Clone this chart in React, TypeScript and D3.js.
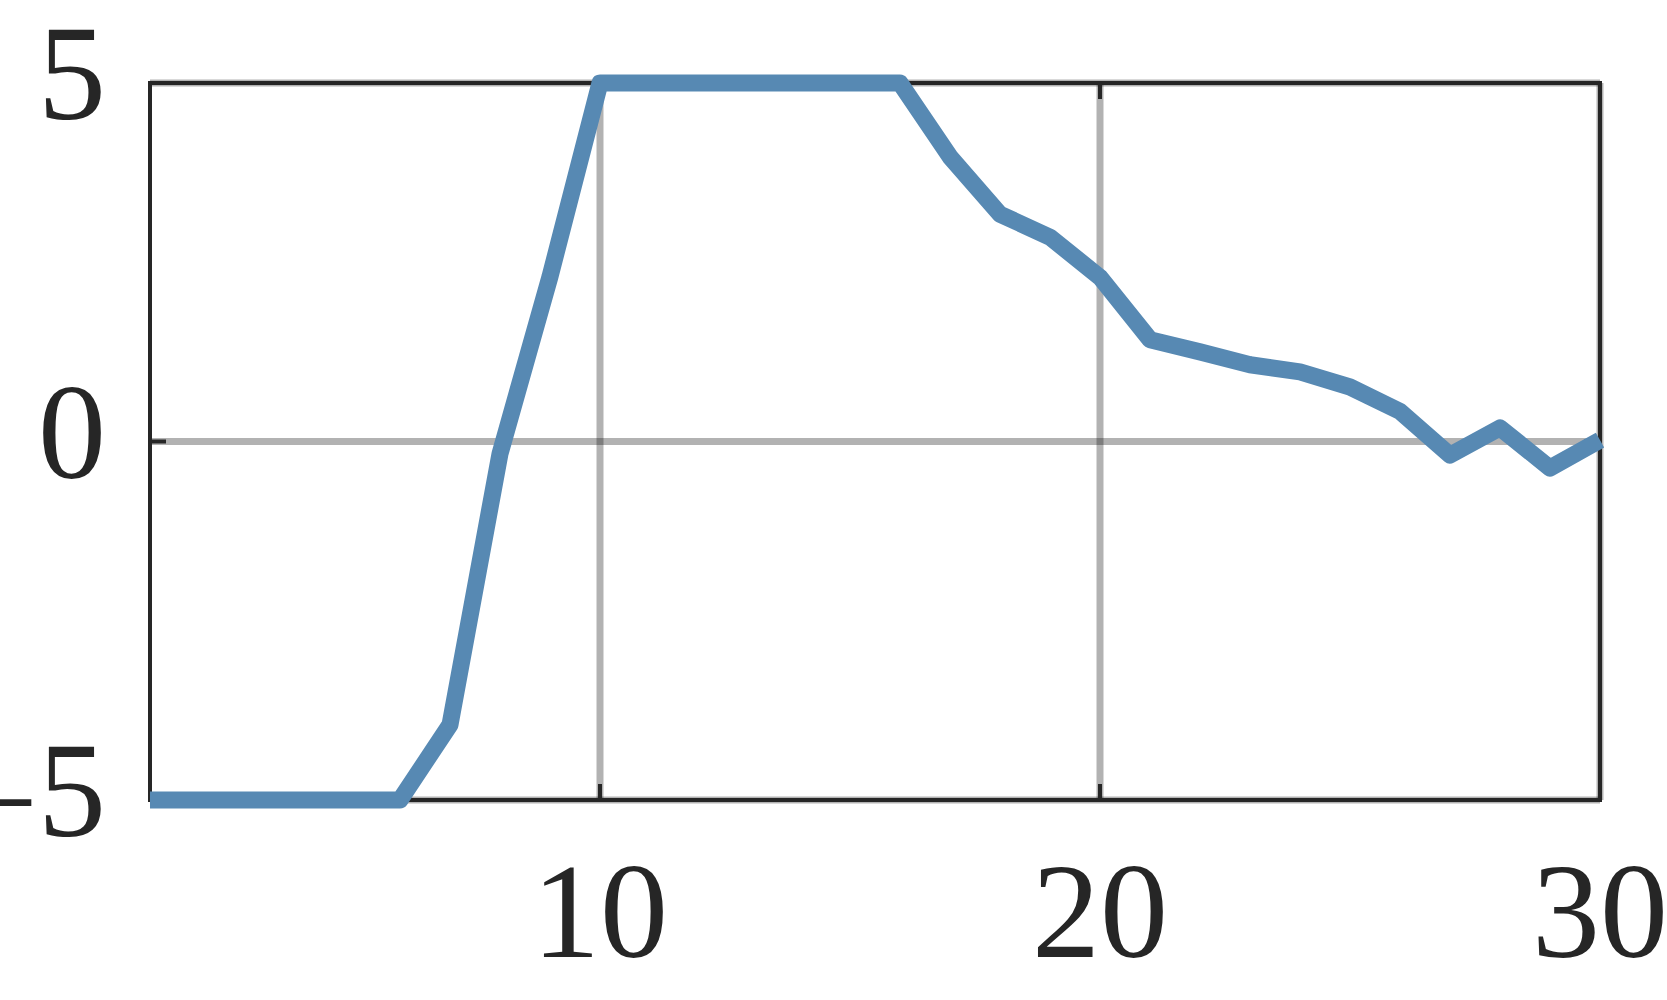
import React, { useEffect, useRef } from 'react'
import * as d3 from 'd3'

// step index (1..30) and the value at each step
const steps = d3.range(1, 31)
const values = [
  -5, -5, -5, -5, -5, -5, -3.95, -0.17, 2.3, 5,
  5, 5, 5, 5, 5, 5, 3.97, 3.17, 2.85, 2.29,
  1.42, 1.25, 1.07, 0.97, 0.76, 0.42, -0.19, 0.19, -0.37, 0.02
]
const xTicks = [10, 20, 30]
const yTicks = [-5, 0, 5]

const width = 1667
const height = 1000
const margin = { top: 83, right: 67, bottom: 200, left: 150 }
const tickLen = 16
const ink = '#262626'
const lineColor = '#5789b3'
const font = '"Liberation Serif", "Times New Roman", serif'

function App () {
  const ref = useRef(null)

  useEffect(() => {
    const node = ref.current
    d3.select(node).selectAll('*').remove()

    const x = d3.scaleLinear()
      .domain([1, 30])
      .range([margin.left, width - margin.right])
    const y = d3.scaleLinear()
      .domain([-5, 5])
      .range([height - margin.bottom, margin.top])

    const svg = d3.select(node)
    const [x0, x1] = x.range()
    const [y0, y1] = y.range()

    // grid
    const grid = svg.append('g')
      .attr('stroke', '#000')
      .attr('stroke-opacity', 0.3)
      .attr('stroke-width', 7)
    grid.selectAll('.vgrid')
      .data(xTicks)
      .enter().append('line')
      .attr('x1', d => x(d)).attr('x2', d => x(d))
      .attr('y1', y1).attr('y2', y0)
    grid.selectAll('.hgrid')
      .data(yTicks)
      .enter().append('line')
      .attr('x1', x0).attr('x2', x1)
      .attr('y1', d => y(d)).attr('y2', d => y(d))

    // frame
    svg.append('rect')
      .attr('x', x0).attr('y', y1)
      .attr('width', x1 - x0).attr('height', y0 - y1)
      .attr('fill', 'none')
      .attr('stroke', ink)
      .attr('stroke-width', 4)

    // inward ticks on all four sides
    const ticks = svg.append('g').attr('stroke', ink).attr('stroke-width', 4)
    xTicks.forEach(t => {
      ticks.append('line').attr('x1', x(t)).attr('x2', x(t)).attr('y1', y0).attr('y2', y0 - tickLen)
      ticks.append('line').attr('x1', x(t)).attr('x2', x(t)).attr('y1', y1).attr('y2', y1 + tickLen)
    })
    yTicks.forEach(t => {
      ticks.append('line').attr('x1', x0).attr('x2', x0 + tickLen).attr('y1', y(t)).attr('y2', y(t))
      ticks.append('line').attr('x1', x1).attr('x2', x1 - tickLen).attr('y1', y(t)).attr('y2', y(t))
    })

    // tick labels
    svg.append('g').selectAll('text')
      .data(xTicks)
      .enter().append('text')
      .attr('x', d => x(d))
      .attr('y', y0 + 157)
      .attr('text-anchor', 'middle')
      .attr('font-family', font)
      .attr('font-size', 136)
      .attr('fill', ink)
      .text(d => d)

    const ylab = svg.append('g').selectAll('text')
      .data(yTicks)
      .enter().append('text')
      .attr('x', x0 - 44)
      .attr('y', d => y(d) + 36)
      .attr('text-anchor', 'end')
      .attr('font-family', font)
      .attr('font-size', 136)
      .attr('fill', ink)
    // minus sits a little lower, as in TeX
    ylab.filter(d => d < 0).append('tspan').attr('dy', 12).text('\u2212')
    ylab.append('tspan').attr('dy', d => d < 0 ? -12 : 0).text(d => Math.abs(d))

    // the series
    const line = d3.line()
      .x((d, i) => x(steps[i]))
      .y(d => y(d))

    svg.append('path')
      .datum(values)
      .attr('d', line)
      .attr('fill', 'none')
      .attr('stroke', lineColor)
      .attr('stroke-width', 17)
      .attr('stroke-linejoin', 'round')
      .attr('stroke-linecap', 'butt')
  }, [])

  return (
    <svg
      ref={ref}
      width={width}
      height={height}
      viewBox={`0 0 ${width} ${height}`}
      style={{ position: 'absolute', left: 0, top: 0, background: '#fff' }}
    />
  )
}

export default App
